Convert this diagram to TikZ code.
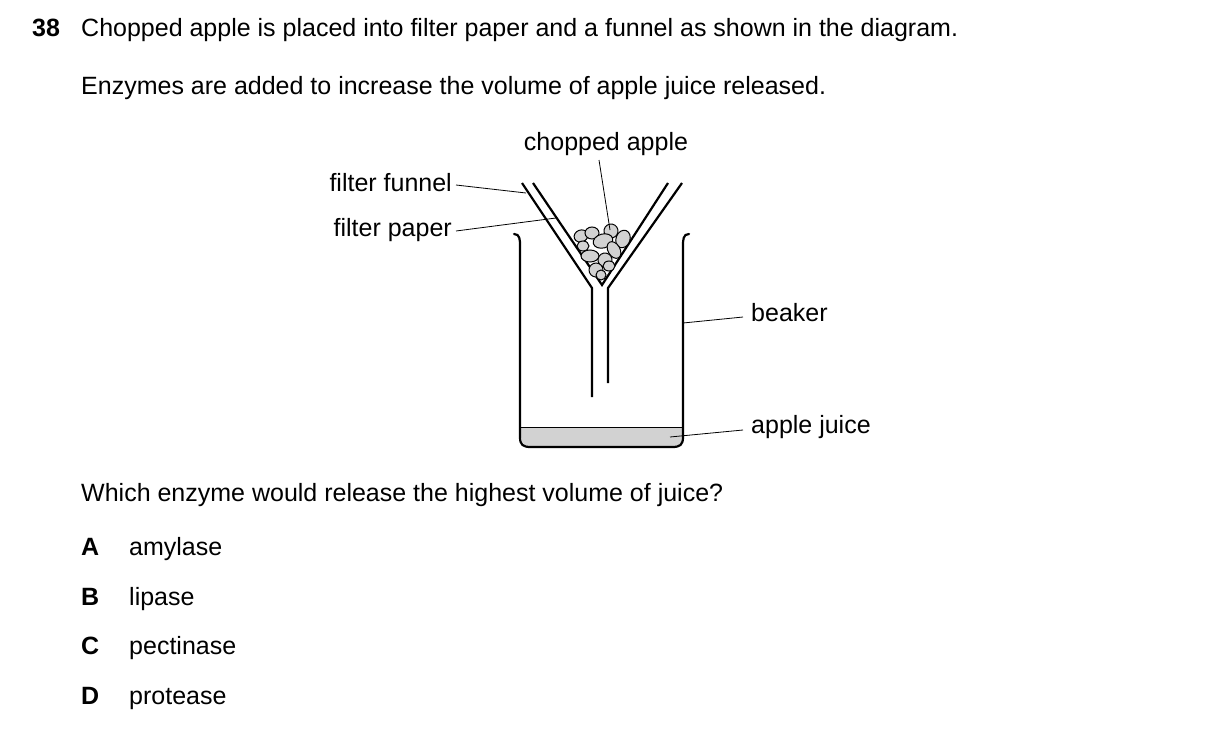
\documentclass[tikz,border=0pt]{standalone}
\usepackage{fontspec}
\setmainfont{Liberation Sans}
\begin{document}
\begin{tikzpicture}[x=1pt,y=-1pt,
  txt/.style={anchor=base west,inner sep=0pt,font=\fontsize{25}{30}\selectfont},
  lab/.style={anchor=base west,inner sep=0pt,font=\fontsize{25}{30}\selectfont},
  thick2/.style={line width=2.2pt},
  lead/.style={line width=0.8pt},
  apple/.style={fill=gray!35,draw=black,line width=1pt}]
\useasboundingbox (0,0) rectangle (1209,730);
\node[txt,font=\bfseries\fontsize{25}{30}\selectfont] (q) at (32,37) {38};
\node[txt] (t1) at (81,37) {Chopped apple is placed into filter paper and a funnel as shown in the diagram.};
\node[txt] (t2) at (81,95) {Enzymes are added to increase the volume of apple juice released.};
\node[txt] (t3) at (81,501) {Which enzyme would release the highest volume of juice?};
\foreach \l/\w/\y in {A/amylase/555,B/lipase/605,C/pectinase/654,D/protease/704}{
  \node[txt,font=\bfseries\fontsize{25}{30}\selectfont] (o\l) at (81,\y) {\l};
  \node[txt] (w\l) at (129,\y) {\w};
}
% juice
\fill[gray!35,rounded corners=10pt] (521,427) -- (521,447) -- (683,447) -- (683,427) -- cycle;
\fill[gray!35] (521,427) rectangle (683,437);
\draw[line width=1pt] (521,427) -- (682,427);
% beaker
\draw[thick2,line cap=round] (514,234) .. controls (520,234) and (520,240) .. (520,246) -- (520,437) .. controls (520,445) and (523,447) .. (531,447) -- (672,447) .. controls (680,447) and (683,445) .. (683,437) -- (683,246) .. controls (683,240) and (683,234) .. (689,234);
% funnel
\draw[thick2] (522,183) -- (592,288) -- (592,397);
\draw[thick2] (682,183) -- (608,288) -- (608,383);
\draw[thick2] (533,183) -- (602,285) -- (668,183);
% apples
\foreach \x/\y/\a/\b/\r in {581/236/7/6/20,592/233/7/6/0,611/231/7/7/10,623/239/7/9/-20,603/241/10/7/15,583/246/6/5/0,614/250/6/9/30,590/256/9/6/0,605/260/7/7/-10,596/270/7/7/20,609/266/6/5/0,601/275/5/5/0}{
  \draw[apple,rotate around={\r:(\x,\y)}] (\x,\y) ellipse ({\a} and {\b});
}
% labels
\node[lab,anchor=base] (ca) at (606,151) {chopped apple};
\coordinate (caE) at (610,230);
\draw[lead] (599,160) -- (caE);
\node[lab,anchor=base east] (ff) at (452,192) {filter funnel};
\coordinate (ffE) at (526,193);
\draw[lead] (456,185) -- (ffE);
\node[lab,anchor=base east] (fp) at (452,236) {filter paper};
\coordinate (fpE) at (556,218);
\draw[lead] (456,231) -- (fpE);
\node[lab] (bk) at (751,321) {beaker};
\coordinate (bkE) at (683,323);
\draw[lead] (bkE) -- (743,317);
\node[lab] (aj) at (751,433) {apple juice};
\coordinate (ajE) at (670,437);
\draw[lead] (ajE) -- (743,430);
\end{tikzpicture}
\end{document}
